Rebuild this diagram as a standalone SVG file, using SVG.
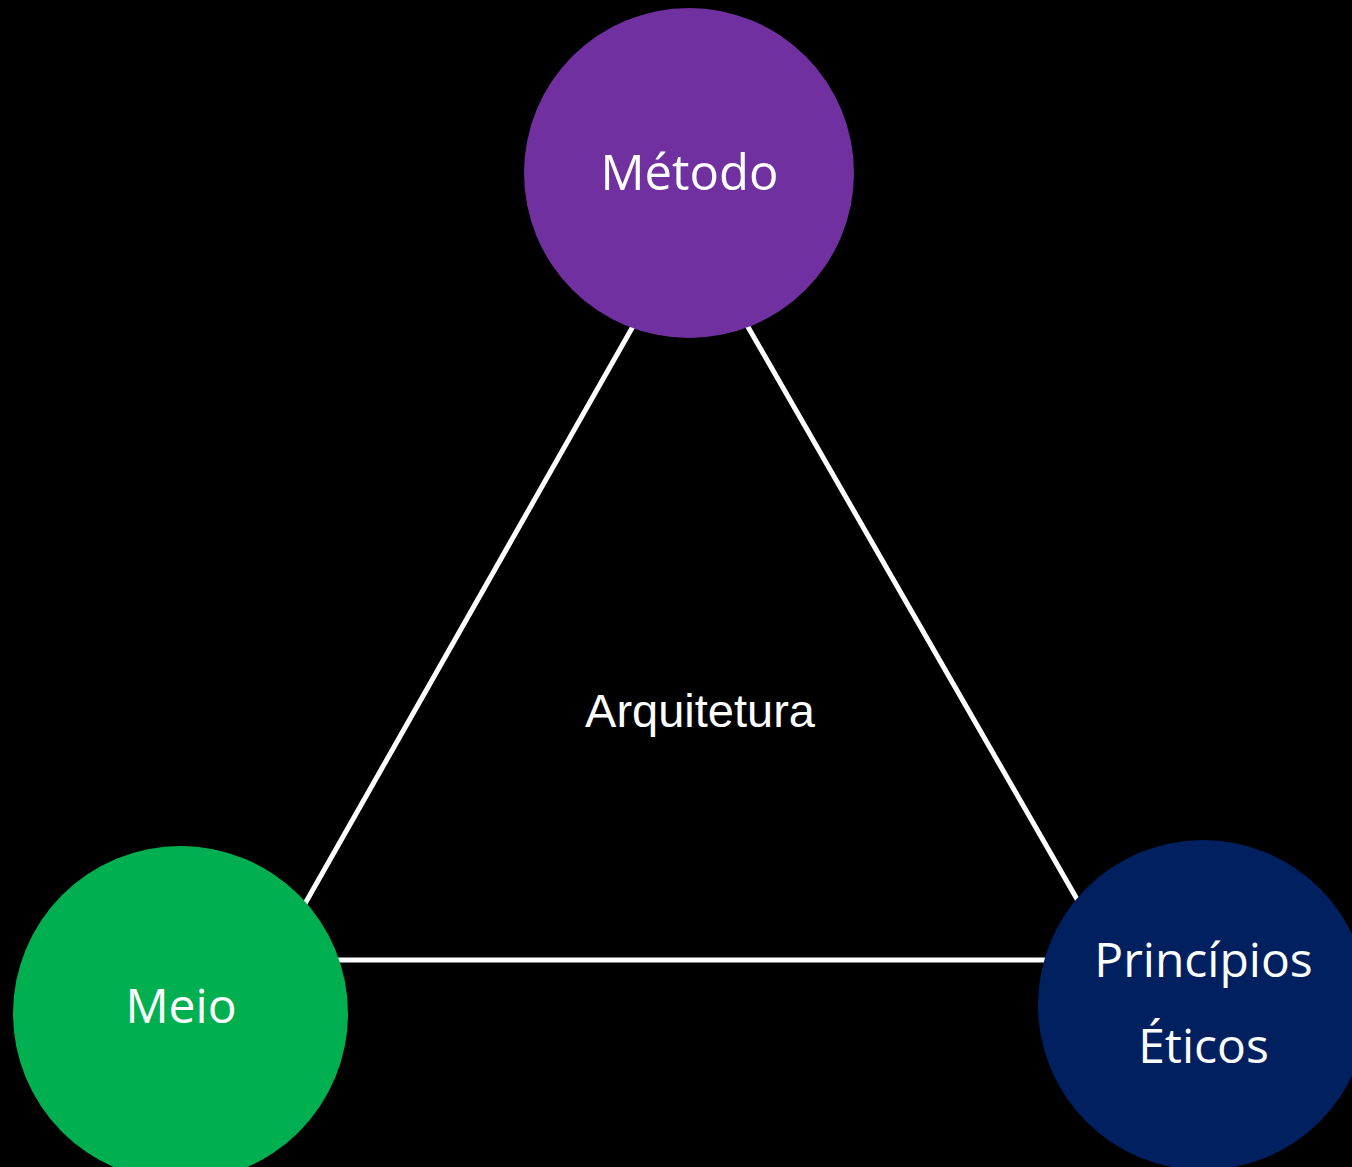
<svg xmlns="http://www.w3.org/2000/svg" width="1352" height="1167" viewBox="0 0 1352 1167">
<style>
.lbl{font-family:"Open Sans","Noto Sans",sans-serif;font-size:48px;fill:#FFFFFF;text-anchor:middle}
.conn{stroke:#FFFFFF;stroke-width:5;fill:none}
</style>
<rect x="0" y="0" width="1352" height="1167" fill="#000000"/>
<g id="connectors">
<line class="conn" x1="690" y1="226" x2="273" y2="960"/>
<line class="conn" x1="690" y1="226" x2="1112" y2="960"/>
<line class="conn" x1="273" y1="960" x2="1112" y2="960"/>
</g>
<g id="metodo">
<circle cx="689" cy="173" r="165" fill="#7030A0"/>
<text class="lbl" x="689.5" y="190" style="font-size:49px">Método</text>
</g>
<g id="meio">
<circle cx="180.5" cy="1013.5" r="167.5" fill="#00B050"/>
<text class="lbl" x="181" y="1023">Meio</text>
</g>
<g id="principios">
<circle cx="1203" cy="1005" r="165" fill="#002060"/>
<text class="lbl" x="1203.5" y="977">Princípios</text>
<text class="lbl" x="1203.5" y="1063">Éticos</text>
</g>
<g id="arquitetura">
<text x="700" y="727" style="font-family:'Liberation Sans',Arial,sans-serif;font-size:47px;fill:#FFFFFF;text-anchor:middle">Arquitetura</text>
</g>
</svg>
